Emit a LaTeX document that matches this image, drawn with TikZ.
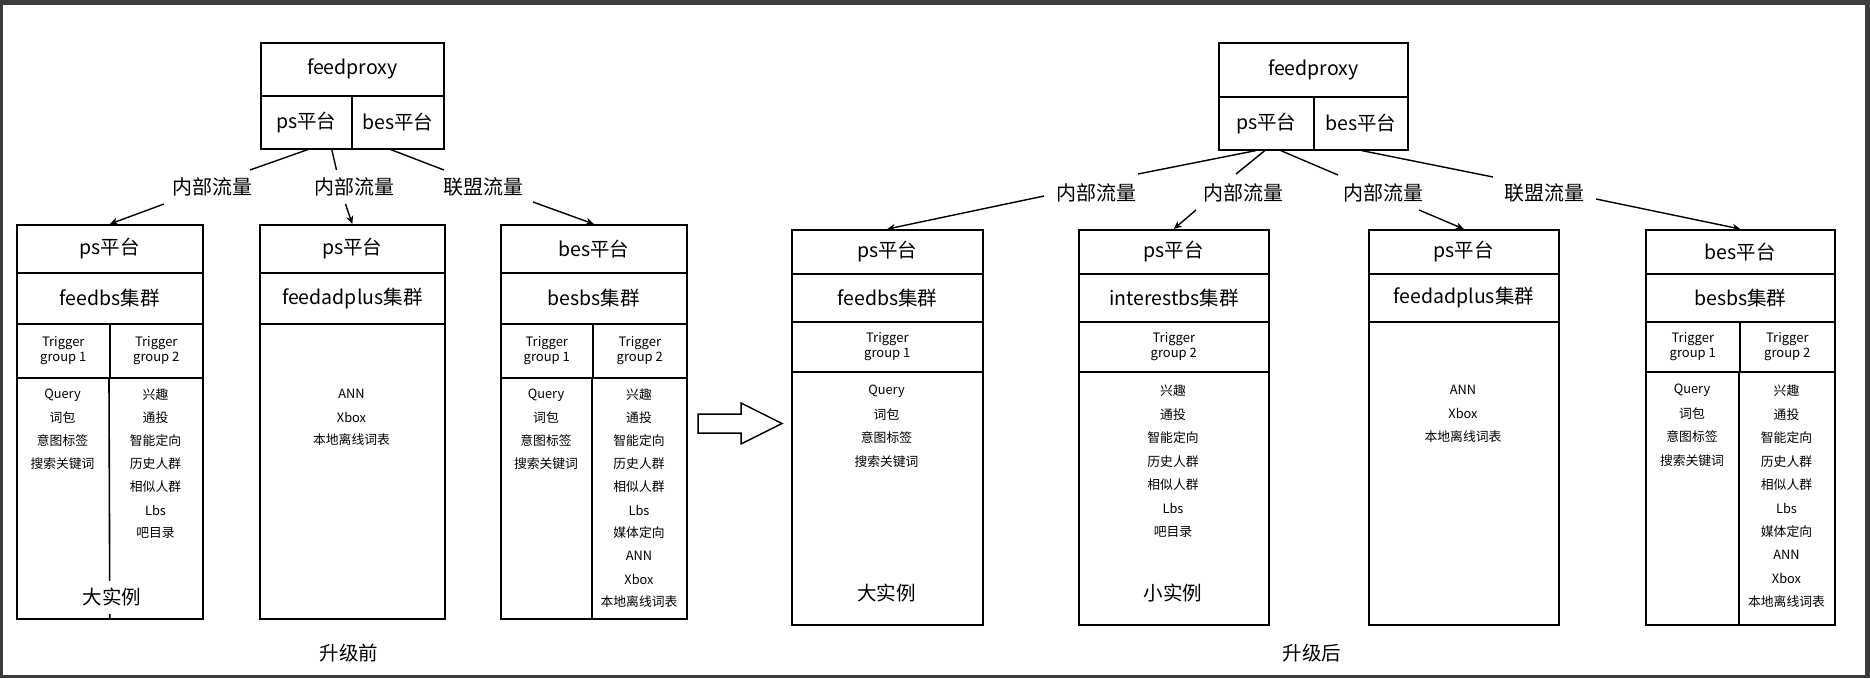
\documentclass[tikz,border=0pt]{standalone}
\usepackage{fontspec}
\setmainfont{Noto Sans CJK SC}
\usetikzlibrary{arrows.meta,calc}
\definecolor{framegray}{HTML}{3C3C3C}
\begin{document}
\begin{tikzpicture}[x=1pt,y=-1pt,
  cellbox/.style={draw, line width=1.6pt, inner sep=0pt, anchor=north west},
  hfont/.style={font=\fontsize{19.5}{22}\selectfont},
  tfont/.style={font=\fontsize{13}{15}\selectfont, align=center},
  itm/.style={font=\fontsize{12.8}{14}\selectfont, inner sep=0pt},
  lbl/.style={font=\fontsize{20}{22}\selectfont, inner sep=0pt},
  conn/.style={line width=1.4pt},
  arr/.style={conn, -{Stealth[length=8pt,width=7pt]}},
  divline/.style={line width=1.6pt},
  gap/.style={hfont, fill=white, inner sep=0pt, minimum height=33pt}
]
\useasboundingbox (0,0) rectangle (1870,678);
% frame
\fill[framegray] (0,0) rectangle (1870,4.5);
\fill[framegray] (0,0) rectangle (2.7,678);
\fill[framegray] (1865,0) rectangle (1870,678);
\fill[framegray] (0,675) rectangle (1870,678);

% ===== before =====
\node[cellbox,hfont,minimum width=183pt,minimum height=53pt] (P1) at (260,42) {feedproxy};
\node[cellbox,hfont,minimum width=91pt,minimum height=53pt] (P2) at (260,95) {ps平台};
\node[cellbox,hfont,minimum width=92pt,minimum height=53pt] (P3) at (351,95) {bes平台};

% box A
\node[cellbox,hfont,minimum width=186pt,minimum height=48pt] (A1) at (16,224) {ps平台};
\node[cellbox,hfont,minimum width=186pt,minimum height=51pt] (A2) at (16,272) {feedbs集群};
\node[cellbox,tfont,minimum width=93pt,minimum height=54pt] (A3) at (16,323) {Trigger\\group 1};
\node[cellbox,tfont,minimum width=93pt,minimum height=54pt] (A4) at (109,323) {Trigger\\group 2};
\node[cellbox,minimum width=186pt,minimum height=241pt] (A5) at (16,377) {};
\draw[divline] (A4.south west) -- (A5.south);
\node[gap] (A6) at (112,597) {大实例};
\foreach \t [count=\i from 0] in {Query,词包,意图标签,搜索关键词}
  \node[itm] (Aa\i) at (62.5,{395+23*\i}) {\t};
\foreach \t [count=\i from 0] in {兴趣,通投,智能定向,历史人群,相似人群,Lbs,吧目录}
  \node[itm] (Ab\i) at (155.5,{395+23*\i}) {\t};

% box B
\node[cellbox,hfont,minimum width=185pt,minimum height=48pt] (B1) at (259,224) {ps平台};
\node[cellbox,hfont,minimum width=185pt,minimum height=51pt] (B2) at (259,272) {feedadplus集群};
\node[cellbox,minimum width=185pt,minimum height=295pt] (B3) at (259,323) {};
\foreach \t [count=\i from 0] in {ANN,Xbox,本地离线词表}
  \node[itm] (Ba\i) at (351.5,{394+23*\i}) {\t};

% box C
\node[cellbox,hfont,minimum width=186pt,minimum height=48pt] (C1) at (500,224) {bes平台};
\node[cellbox,hfont,minimum width=186pt,minimum height=51pt] (C2) at (500,272) {besbs集群};
\node[cellbox,tfont,minimum width=92pt,minimum height=54pt] (C3) at (500,323) {Trigger\\group 1};
\node[cellbox,tfont,minimum width=94pt,minimum height=54pt] (C4) at (592,323) {Trigger\\group 2};
\node[cellbox,minimum width=186pt,minimum height=241pt] (C5) at (500,377) {};
\draw[divline] (C4.south west) -- (C5.south -| C4.south west);
\foreach \t [count=\i from 0] in {Query,词包,意图标签,搜索关键词}
  \node[itm] (Ca\i) at (546,{395+23*\i}) {\t};
\foreach \t [count=\i from 0] in {兴趣,通投,智能定向,历史人群,相似人群,Lbs,媒体定向,ANN,Xbox,本地离线词表}
  \node[itm] (Cb\i) at (639,{395+23*\i}) {\t};

% labels and connectors (before)
\node[lbl] (L1) at (212,187) {内部流量};
\node[lbl] (L2) at (354.5,187) {内部流量};
\node[lbl] (L3) at (483,187) {联盟流量};
\draw[conn] ([xshift=1.5pt]P2.south) -- ($(L1)+(38,-17)$);
\draw[arr] ($(L1)+(-48,17)$) -- (A1.north);
\draw[conn] ([xshift=25.5pt]P2.south) -- ($(L2)+(-18,-17)$);
\draw[arr] ($(L2)+(-9,17)$) -- (B1.north);
\draw[conn] ([xshift=-7pt]P3.south) -- ($(L3)+(-39,-17)$);
\draw[arr] ($(L3)+(50,15)$) -- (C1.north);

\node[hfont] (T1) at (349,653) {升级前};

% hollow arrow
\draw[line width=1.5pt, line join=miter] (698,414) -- (741,414) -- (741,403) -- (782,423.5) -- (741,444) -- (741,433) -- (698,433) -- cycle;

% ===== after =====
\node[cellbox,hfont,minimum width=189pt,minimum height=54pt] (Q1) at (1218,42) {feedproxy};
\node[cellbox,hfont,minimum width=95pt,minimum height=53pt] (Q2) at (1218,96) {ps平台};
\node[cellbox,hfont,minimum width=94pt,minimum height=53pt] (Q3) at (1313,96) {bes平台};

% box D
\node[cellbox,hfont,minimum width=191pt,minimum height=44pt] (D1) at (791,229) {ps平台};
\node[cellbox,hfont,minimum width=191pt,minimum height=48pt] (D2) at (791,273) {feedbs集群};
\node[cellbox,tfont,minimum width=191pt,minimum height=50pt] (D3) at (791,321) {Trigger\\group 1};
\node[cellbox,minimum width=191pt,minimum height=253pt] (D4) at (791,371) {};
\foreach \t [count=\i from 0] in {Query,词包,意图标签,搜索关键词}
  \node[itm] (Da\i) at (886.5,{391+23.5*\i}) {\t};
\node[hfont] (D5) at (886.5,593) {大实例};

% box E
\node[cellbox,hfont,minimum width=190pt,minimum height=44pt] (E1) at (1078,229) {ps平台};
\node[cellbox,hfont,minimum width=190pt,minimum height=48pt] (E2) at (1078,273) {interestbs集群};
\node[cellbox,tfont,minimum width=190pt,minimum height=50pt] (E3) at (1078,321) {Trigger\\group 2};
\node[cellbox,minimum width=190pt,minimum height=253pt] (E4) at (1078,371) {};
\foreach \t [count=\i from 0] in {兴趣,通投,智能定向,历史人群,相似人群,Lbs,吧目录}
  \node[itm] (Ea\i) at (1173,{391+23.5*\i}) {\t};
\node[hfont] (E5) at (1173,593) {小实例};

% box F
\node[cellbox,hfont,minimum width=190pt,minimum height=44pt] (F1) at (1368,229) {ps平台};
\node[cellbox,hfont,minimum width=190pt,minimum height=48pt] (F2) at (1368,273) {feedadplus集群};
\node[cellbox,minimum width=190pt,minimum height=303pt] (F3) at (1368,321) {};
\foreach \t [count=\i from 0] in {ANN,Xbox,本地离线词表}
  \node[itm] (Fa\i) at (1463,{390+23.5*\i}) {\t};

% box G
\node[cellbox,hfont,minimum width=189pt,minimum height=44pt] (G1) at (1645,229) {bes平台};
\node[cellbox,hfont,minimum width=189pt,minimum height=48pt] (G2) at (1645,273) {besbs集群};
\node[cellbox,tfont,minimum width=94pt,minimum height=50pt] (G3) at (1645,321) {Trigger\\group 1};
\node[cellbox,tfont,minimum width=95pt,minimum height=50pt] (G4) at (1739,321) {Trigger\\group 2};
\node[cellbox,minimum width=189pt,minimum height=253pt] (G5) at (1645,371) {};
\draw[divline] (G4.south west) -- (G5.south -| G4.south west);
\foreach \t [count=\i from 0] in {Query,词包,意图标签,搜索关键词}
  \node[itm] (Ga\i) at (1692,{390+23.4*\i}) {\t};
\foreach \t [count=\i from 0] in {兴趣,通投,智能定向,历史人群,相似人群,Lbs,媒体定向,ANN,Xbox,本地离线词表}
  \node[itm] (Gb\i) at (1786.5,{391+23.4*\i}) {\t};

% labels and connectors (after)
\node[lbl] (R1) at (1096,193) {内部流量};
\node[lbl] (R2) at (1243,193) {内部流量};
\node[lbl] (R3) at (1383,193) {内部流量};
\node[lbl] (R4) at (1544,193) {联盟流量};
\draw[conn] ([xshift=-10.5pt]Q2.south) -- ($(R1)+(42,-19)$);
\draw[arr] ($(R1)+(-52,3)$) -- (D1.north);
\draw[conn] ([xshift=-1.5pt]Q2.south) -- ($(R2)+(-7,-19)$);
\draw[arr] ($(R2)+(-47,17)$) -- (E1.north);
\draw[conn] ([xshift=14.5pt]Q2.south) -- ($(R3)+(-45,-18)$);
\draw[arr] ($(R3)+(36,17)$) -- (F1.north);
\draw[conn] ([xshift=1pt]Q3.south) -- ($(R4)+(-51,-16)$);
\draw[arr] ($(R4)+(52,6)$) -- (G1.north);

\node[hfont] (T2) at (1312,653) {升级后};
\end{tikzpicture}
\end{document}
